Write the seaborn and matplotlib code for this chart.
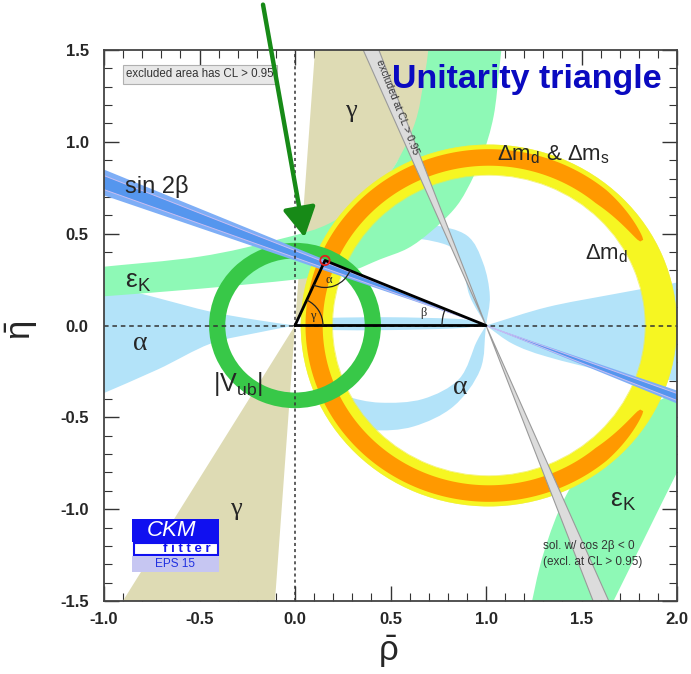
import numpy as np
import pandas as pd
import matplotlib
matplotlib.use("Agg")
import matplotlib.pyplot as plt
import seaborn as sns
from matplotlib.path import Path
from matplotlib.patches import PathPatch, Polygon, Wedge, Arc, Rectangle
from matplotlib.ticker import MultipleLocator, FormatStrFormatter

# ---------------- values ----------------
triangle_rho = [0.0, 0.157, 1.0, 0.0]
triangle_eta = [0.0, 0.354, 0.0, 0.0]
apex_rho = [0.157]
apex_eta = [0.354]

gamma_angles = [59.0, 86.0]        # deg, gamma wedge around the origin
sin2b_angles = [19.5, 23.0]        # deg, sin2beta band around (1,0)
sin2b_core = [20.3, 22.2]
cos2b_angles = [110.5, 113.2]      # deg, grey excluded band around (1,0)

dmd_center = [1.015, 0.0]
dmd_radii = [0.82, 0.985]          # yellow Delta m_d ring
dms_radii = [0.87, 0.96]           # orange Delta m_d & Delta m_s arc
dms_span = [30.0, 330.0]           # deg
vub_radii = [0.365, 0.45]          # |Vub| ring around origin

# epsilon_K bands
epsK_up_outer_rho = [-1.05, -0.5, 0.0, 0.27, 0.445, 0.59, 0.71, 0.83, 0.90, 0.98, 1.04, 1.07, 1.09]
epsK_up_outer_eta = [0.155, 0.20, 0.25, 0.29, 0.36, 0.42, 0.51, 0.63, 0.74, 0.92, 1.14, 1.40, 1.60]
epsK_up_inner_rho = [-1.05, -0.5, -0.08, 0.2, 0.46, 0.62, 0.68, 0.71]
epsK_up_inner_eta = [0.315, 0.375, 0.47, 0.567, 0.78, 1.08, 1.37, 1.60]
epsK_lo_inner_rho = [1.22, 1.30, 1.42, 1.60, 1.80, 2.00, 2.10]
epsK_lo_inner_eta = [-1.60, -1.245, -0.924, -0.649, -0.473, -0.36, -0.318]
epsK_lo_outer_rho = [1.62, 1.81, 2.00, 2.10]
epsK_lo_outer_eta = [-1.60, -1.20, -0.80, -0.60]

# alpha regions
alpha_left_up_rho = [-1.05, -0.72, -0.445, -0.2, 0.0]
alpha_left_up_eta = [0.24, 0.15, 0.076, 0.03, 0.0]
alpha_left_lo_rho = [-1.05, -0.72, -0.445, -0.2, 0.0]
alpha_left_lo_eta = [-0.39, -0.24, -0.10, -0.04, 0.0]
alpha_right_up_rho = [1.0, 1.32, 1.665, 1.98, 2.05]
alpha_right_up_eta = [0.0, 0.10, 0.17, 0.23, 0.245]
alpha_right_lo_rho = [1.0, 1.14, 1.32, 1.665, 1.82, 2.05]
alpha_right_lo_eta = [0.0, -0.10, -0.17, -0.26, -0.28, -0.31]
alpha_lens_up_rho = [0.0, 0.1, 0.19, 0.5, 0.83, 0.93, 1.0]
alpha_lens_up_eta = [0.0, 0.035, 0.042, 0.045, 0.037, 0.025, 0.0]
alpha_lens_lo_rho = [0.0, 0.1, 0.19, 0.5, 0.83, 1.0]
alpha_lens_lo_eta = [0.0, -0.018, -0.025, -0.025, -0.016, 0.0]
alpha_top_out_rho = [0.25, 0.5, 0.71, 0.90, 0.985, 1.02, 1.0]
alpha_top_out_eta = [0.50, 0.56, 0.55, 0.49, 0.34, 0.16, 0.0]
alpha_top_in_rho = [0.25, 0.5, 0.79, 0.87, 0.915, 1.0]
alpha_top_in_eta = [0.44, 0.485, 0.44, 0.34, 0.16, 0.0]
alpha_bot_out_rho = [0.10, 0.18, 0.27, 0.41, 0.62, 0.83, 0.97, 1.0]
alpha_bot_out_eta = [-0.38, -0.47, -0.53, -0.57, -0.55, -0.44, -0.24, 0.0]
alpha_bot_in_rho = [0.10, 0.18, 0.27, 0.445, 0.67, 0.86, 0.95, 1.0]
alpha_bot_in_eta = [-0.29, -0.33, -0.385, -0.42, -0.40, -0.29, -0.09, 0.0]

xticks = [-1.0, -0.5, 0.0, 0.5, 1.0, 1.5, 2.0]
yticks = [-1.5, -1.0, -0.5, 0.0, 0.5, 1.0, 1.5]

# ---------------- colours ----------------
C_TAN = "#dedbb4"
C_MINT = "#8ef9b6"
C_LBLUE = "#b3e3f9"
C_YEL = "#f6f622"
C_ORG = "#ff9900"
C_VUB = "#38c848"
C_S2B = "#7eaef6"
C_S2B_CORE = "#5596ee"
C_GREY = "#dcdcdc"

# ---------------- helpers ----------------
def smooth(pts):
    pts = np.asarray(pts, float)
    P = np.vstack([2 * pts[0] - pts[1], pts, 2 * pts[-1] - pts[-2]])
    verts, codes = [], []
    for i in range(1, len(P) - 2):
        p0, p1, p2, p3 = P[i - 1], P[i], P[i + 1], P[i + 2]
        verts += [p1 + (p2 - p0) / 6.0, p2 - (p3 - p1) / 6.0, p2]
        codes += [Path.CURVE4] * 3
    return verts, codes


def band(ax, up_x, up_y, lo_x, lo_y, **kw):
    up = np.column_stack([up_x, up_y])
    lo = np.column_stack([lo_x, lo_y])[::-1]
    v1, c1 = smooth(up)
    v2, c2 = smooth(lo)
    verts = [up[0]] + v1 + [lo[0]] + v2 + [up[0]]
    codes = [Path.MOVETO] + c1 + [Path.LINETO] + c2 + [Path.CLOSEPOLY]
    ax.add_patch(PathPatch(Path(verts, codes), **kw))


def ray_wedge(ax, cx, cy, a1, a2, L=4.0, **kw):
    t1, t2 = np.radians(a1), np.radians(a2)
    pts = [(cx, cy), (cx + L * np.cos(t1), cy + L * np.sin(t1)),
           (cx + L * np.cos(t2), cy + L * np.sin(t2))]
    ax.add_patch(Polygon(pts, closed=True, **kw))


# ---------------- figure ----------------
sns.set_theme(style="ticks")
plt.rcParams["font.family"] = ["Liberation Sans", "DejaVu Sans"]
plt.rcParams["mathtext.fontset"] = "custom"
plt.rcParams["mathtext.rm"] = "Liberation Sans"
plt.rcParams["mathtext.it"] = "Liberation Sans:italic"
plt.rcParams["mathtext.bf"] = "Liberation Sans:bold"
plt.rcParams["axes.unicode_minus"] = False

fig = plt.figure(figsize=(6.91, 6.74), dpi=100)
ax = fig.add_axes([104 / 691, 1 - 601 / 674, (677 - 104) / 691, (601 - 50) / 674])
ax.set_xlim(-1, 2)
ax.set_ylim(-1.5, 1.5)

# gamma wedge (both halves)
ray_wedge(ax, 0, 0, gamma_angles[0], gamma_angles[1], fc=C_TAN, ec="none", zorder=1)
ray_wedge(ax, 0, 0, gamma_angles[0] + 180, gamma_angles[1] + 180, fc=C_TAN, ec="none", zorder=1)

# alpha regions
akw = dict(fc=C_LBLUE, ec="none", zorder=2)
band(ax, alpha_left_up_rho, alpha_left_up_eta, alpha_left_lo_rho, alpha_left_lo_eta, **akw)
band(ax, alpha_right_up_rho, alpha_right_up_eta, alpha_right_lo_rho, alpha_right_lo_eta, **akw)
band(ax, alpha_lens_up_rho, alpha_lens_up_eta, alpha_lens_lo_rho, alpha_lens_lo_eta, **akw)
band(ax, alpha_top_out_rho, alpha_top_out_eta, alpha_top_in_rho, alpha_top_in_eta, **akw)
band(ax, alpha_bot_out_rho, alpha_bot_out_eta, alpha_bot_in_rho, alpha_bot_in_eta, **akw)

# epsilon_K bands
ekw = dict(fc=C_MINT, ec="none", zorder=3)
band(ax, epsK_up_inner_rho, epsK_up_inner_eta, epsK_up_outer_rho, epsK_up_outer_eta, **ekw)
band(ax, epsK_lo_inner_rho, epsK_lo_inner_eta, epsK_lo_outer_rho, epsK_lo_outer_eta, **ekw)

# Delta m_d ring (yellow)
ax.add_patch(Wedge(tuple(dmd_center), dmd_radii[1], 0, 360,
                   width=dmd_radii[1] - dmd_radii[0], fc=C_YEL, ec="none", zorder=4))

# Delta m_d & Delta m_s arc (orange, tapered ends)
th = np.radians(np.linspace(dms_span[0], dms_span[1], 300))
taper = np.clip(np.minimum(th - th[0], th[-1] - th) / np.radians(20), 0, 1) ** 0.6
mid = 0.5 * (dms_radii[0] + dms_radii[1])
half = 0.5 * (dms_radii[1] - dms_radii[0])
r_out = mid + half * (0.4 + 0.6 * taper)
r_in = mid - half * taper
outer = np.column_stack([dmd_center[0] + r_out * np.cos(th), dmd_center[1] + r_out * np.sin(th)])
inner = np.column_stack([dmd_center[0] + r_in * np.cos(th), dmd_center[1] + r_in * np.sin(th)])[::-1]
ax.add_patch(Polygon(np.vstack([outer, inner]), closed=True, fc=C_ORG, ec="none", zorder=5))

# thin yellow contour circles
for r in dmd_radii:
    ax.add_patch(Wedge(tuple(dmd_center), r, 0, 360, width=0.004, fc="#eeee40",
                       ec="none", alpha=0.7, zorder=5.5))

# |Vub| ring
ax.add_patch(Wedge((0, 0), vub_radii[1], 0, 360, width=vub_radii[1] - vub_radii[0],
                   fc=C_VUB, ec="none", zorder=6))

# sin 2beta band (both sides of (1,0))
for off in (180.0, 0.0):
    a1 = off - sin2b_angles[0] if off == 180.0 else -sin2b_angles[1]
    a2 = off - sin2b_angles[1] if off == 180.0 else -sin2b_angles[0]
    ray_wedge(ax, 1, 0, a1, a2, fc=C_S2B, ec="none", zorder=7)
    c1 = off - sin2b_core[0] if off == 180.0 else -sin2b_core[1]
    c2 = off - sin2b_core[1] if off == 180.0 else -sin2b_core[0]
    ray_wedge(ax, 1, 0, c1, c2, fc=C_S2B_CORE, ec="none", zorder=7.1)
    for a in (c1, c2):
        t = np.radians(a)
        ax.plot([1, 1 + 4 * np.cos(t)], [0, 4 * np.sin(t)], color="#c9bdf2", lw=0.7, zorder=7.2)

# grey excluded band (cos 2beta < 0)
for off in (0.0, 180.0):
    ray_wedge(ax, 1, 0, cos2b_angles[0] + off, cos2b_angles[1] + off,
              fc=C_GREY, ec="#9a9a9a", lw=0.8, zorder=8)

# reference axes lines
ax.axhline(0, color="#333333", lw=1.1, ls=(0, (3, 2.5)), zorder=9)
ax.axvline(0, color="#333333", lw=1.1, ls=(0, (2, 2)), zorder=9)

# unitarity triangle
tri = pd.DataFrame({"rho": triangle_rho, "eta": triangle_eta})
sns.lineplot(data=tri, x="rho", y="eta", sort=False, color="black", lw=2.0,
             ax=ax, zorder=10, estimator=None)
sns.scatterplot(x=apex_rho, y=apex_eta, ax=ax, s=45, marker="o",
                facecolor="none", edgecolor="#e02020", linewidth=1.3, zorder=11)

# angle arcs (approximately circular on screen)
sx, sy = 191.0, 183.7
def arc(cx, cy, rpx, a1, a2):
    ax.add_patch(Arc((cx, cy), 2 * rpx / sx, 2 * rpx / sy, theta1=a1, theta2=a2,
                     color="#222222", lw=0.9, zorder=10))

ang_g = np.degrees(np.arctan2(triangle_eta[1] * sy, triangle_rho[1] * sx))
arc(0, 0, 28, 0, ang_g)
a_to_o = np.degrees(np.arctan2(-triangle_eta[1] * sy, -triangle_rho[1] * sx)) % 360
a_to_b = np.degrees(np.arctan2(-triangle_eta[1] * sy, (1 - triangle_rho[1]) * sx)) % 360
arc(triangle_rho[1], triangle_eta[1], 27, a_to_o, a_to_b)
ang_b = np.degrees(np.arctan2(triangle_eta[1] * sy, (triangle_rho[1] - 1) * sx))
arc(1, 0, 44, ang_b, 180)

serif = ["Liberation Serif", "DejaVu Serif"]
ax.text(0.178, 0.25, "α", family=serif, fontsize=9, ha="center", va="center", zorder=12)
ax.text(0.094, 0.05, "γ", family=serif, fontsize=9, ha="center", va="center", zorder=12)
ax.text(0.67, 0.07, "β", family=serif, fontsize=9, ha="center", va="center", zorder=12)

# ---------------- labels ----------------
ax.text(-0.89, 0.757, "sin 2β", fontsize=17, ha="left", va="center", zorder=12)
ax.text(-0.89, 0.235, r"$\mathregular{ε_K}$", fontsize=19, ha="left", va="center", zorder=12)
ax.text(-0.81, -0.10, "α", family=serif, fontsize=20, ha="center", va="center", zorder=12)
ax.text(-0.43, -0.32, r"$\mathregular{|V_{ub}|}$", fontsize=18, ha="left", va="center", zorder=12)
ax.text(0.293, 1.17, "γ", family=serif, fontsize=19, ha="center", va="center", zorder=12)
ax.text(-0.31, -1.0, "γ", family=serif, fontsize=19, ha="center", va="center", zorder=12)
ax.text(0.864, -0.34, "α", family=serif, fontsize=20, ha="center", va="center", zorder=12)
ax.text(1.06, 0.93, r"$\mathregular{Δm_d}$ & $\mathregular{Δm_s}$", fontsize=16,
        ha="left", va="center", zorder=12)
ax.text(1.518, 0.39, r"$\mathregular{Δm_d}$", fontsize=16, ha="left", va="center", zorder=12)
ax.text(1.65, -0.955, r"$\mathregular{ε_K}$", fontsize=19, ha="left", va="center", zorder=12)
ax.text(1.30, -1.198, "sol. w/ cos 2β < 0", fontsize=8.5, color="#333333",
        ha="left", va="center", zorder=12)
ax.text(1.30, -1.29, "(excl. at CL > 0.95)", fontsize=8.5, color="#333333",
        ha="left", va="center", zorder=12)
ax.text(0.534, 1.187, "excluded at CL > 0.95", fontsize=7.5, color="#333333", rotation=-68.5,
        ha="center", va="center", rotation_mode="anchor", zorder=12)
ax.text(-0.885, 1.369, "excluded area has CL > 0.95", fontsize=8.3, color="#333333",
        ha="left", va="center", zorder=12,
        bbox=dict(boxstyle="square,pad=0.3", fc="#e8e8e8", ec="#b0b0b0", lw=0.8))
ax.text(0.51, 1.34, "Unitarity triangle", fontsize=24.5, fontweight="bold", color="#0a0ac0",
        ha="left", va="center", zorder=12)

# CKMfitter logo
ax.add_patch(Rectangle((-0.853, -1.181), 0.455, 0.125, fc="#1010f0", ec="none", zorder=12))
ax.add_patch(Rectangle((-0.845, -1.25), 0.44, 0.066, fc="white", ec="#1010f0", lw=1.5, zorder=12))
ax.add_patch(Rectangle((-0.853, -1.343), 0.455, 0.088, fc="#c6c6f2", ec="none", zorder=12))
ax.text(-0.649, -1.116, "CKM", fontsize=16, style="italic", color="white",
        ha="center", va="center", zorder=13)
ax.text(-0.565, -1.215, "f i t t e r", fontsize=9.5, fontweight="bold", color="#1010f0",
        ha="center", va="center", zorder=13)
ax.text(-0.628, -1.297, "EPS 15", fontsize=8.5, color="#2030e0",
        ha="center", va="center", zorder=13)

# green arrow
ax.annotate("", xy=(0.05, 0.48), xytext=(-0.1675, 1.747),
            arrowprops=dict(arrowstyle="-|>,head_length=0.9,head_width=0.5",
                            color="#178a17", lw=3.2, shrinkA=0, shrinkB=0, mutation_scale=20),
            annotation_clip=False, zorder=20)

# ---------------- axes styling ----------------
ax.set_xticks(xticks)
ax.set_yticks(yticks)
ax.xaxis.set_minor_locator(MultipleLocator(0.1))
ax.yaxis.set_minor_locator(MultipleLocator(0.1))
ax.xaxis.set_major_formatter(FormatStrFormatter("%.1f"))
ax.yaxis.set_major_formatter(FormatStrFormatter("%.1f"))
ax.tick_params(which="both", direction="in", top=True, right=True, color="#333333")
ax.tick_params(which="major", length=11, width=1.0)
ax.tick_params(which="minor", length=5.5, width=0.8)
ax.tick_params(axis="x", which="major", pad=8, labelsize=12)
ax.tick_params(axis="y", which="major", pad=11, labelsize=12)
for lab in ax.get_xticklabels() + ax.get_yticklabels():
    lab.set_fontweight("bold")
for s in ax.spines.values():
    s.set_color("#444444")
    s.set_linewidth(1.3)
    s.set_zorder(15)
ax.set_xlabel("")
ax.set_ylabel("")

fig.text(388 / 691, 1 - 652 / 674, r"$\bar{\mathrm{ρ}}$", fontsize=25, ha="center", va="center")
fig.text(22 / 691, 1 - 330 / 674, r"$\bar{\mathrm{η}}$", fontsize=25, ha="center", va="center",
         rotation=90)

fig.savefig("out.png", dpi=100, facecolor="white")
